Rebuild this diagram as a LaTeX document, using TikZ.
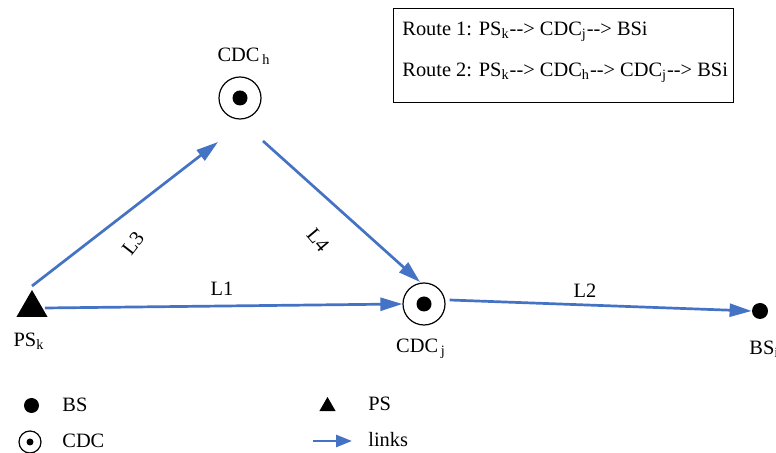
\documentclass[tikz,border=0pt]{standalone}
\usepackage{fontspec}
\setmainfont{Liberation Serif}
\usetikzlibrary{arrows.meta,shapes.geometric,calc}
\definecolor{linkblue}{HTML}{4472C4}
\begin{document}
\begin{tikzpicture}[x=0.5pt,y=-0.5pt,
  font=\fontsize{10.2pt}{12pt}\selectfont,
  link/.style={draw=linkblue,line width=1.35pt,
    -{Triangle[length=11pt,width=6.5pt]}},
  cdcnode/.style={circle,draw,line width=0.6pt,minimum size=21pt,inner sep=0pt},
  dotnode/.style={circle,fill=black,minimum size=#1,inner sep=0pt},
  psnode/.style={regular polygon,regular polygon sides=3,fill=black,
    minimum size=#1,inner sep=0pt},
  lbl/.style={inner sep=0pt,anchor=west}]
\useasboundingbox (0,0) rectangle (776,453);

% network nodes
\node[psnode=18pt] (ps) at (32,308) {};
\node[cdcnode] (cdch) at (240,98) {};
\node[dotnode=7.5pt] at (cdch.center) {};
\node[cdcnode] (cdcj) at (424,304) {};
\node[dotnode=7.5pt] at (cdcj.center) {};
\node[dotnode=8pt] (bs) at (760,311) {};

% node labels
\node (psl) at (29,341) {PS$_\mathrm{k}$};
\node (cdchl) at (244,56) {CDC$_\mathrm{\,h}$};
\node (cdcjl) at (421,349) {CDC$_\mathrm{\,j}$};
\node[lbl] (bsl) at (749,349) {BS$_\mathrm{i}$};

% links
\coordinate (l3s) at (32,286);
\coordinate (l3e) at (218,142);
\coordinate (l4s) at (263,141);
\coordinate (l4e) at (420,282);
\draw[link] (l3s) -- (l3e);
\node[rotate=52] (l3) at (133,243) {L3};
\draw[link] (l4s) -- (l4e);
\node[rotate=-50] (l4) at (318,240) {L4};
\draw[link] (ps.east) ++(1pt,0) coordinate (l1s) -- (cdcj.west);
\node (l1) at (222,289) {L1};
\draw[link] (cdcj.east) ++(2pt,2pt) coordinate (l2s) -- (bs.west);
\node (l2) at (585,291) {L2};

% route box
\node[draw,line width=0.6pt,minimum width=170pt,minimum height=47pt,anchor=north west] (routes) at (393,8) {};
\node[lbl] (r1) at (402,32) {Route 1: PS$_\mathrm{k}$-{}-> CDC$_\mathrm{j}$-{}-> BSi};
\node[lbl] (r2) at (402,73) {Route 2: PS$_\mathrm{k}$-{}-> CDC$_\mathrm{h}$-{}-> CDC$_\mathrm{j}$-{}-> BSi};

% legend
\node[dotnode=7.5pt] (kbs) at (31.5,405.5) {};
\node[lbl] (kbst) at (62,405) {BS};
\node[circle,draw,line width=0.6pt,minimum size=11pt,inner sep=0pt] (kcdc) at (30,442) {};
\node[dotnode=3.5pt] at (kcdc.center) {};
\node[lbl] (kcdct) at (62,441) {CDC};
\node[psnode=9.5pt] (kps) at (327.5,406.5) {};
\node[lbl] (kpst) at (368,404) {PS};
\coordinate (ka) at (313,441);
\coordinate (kb) at (352,441);
\draw[link,-{Triangle[length=8pt,width=6pt]}] (ka) -- (kb);
\node[lbl] (klt) at (368,440) {links};
\end{tikzpicture}
\end{document}
